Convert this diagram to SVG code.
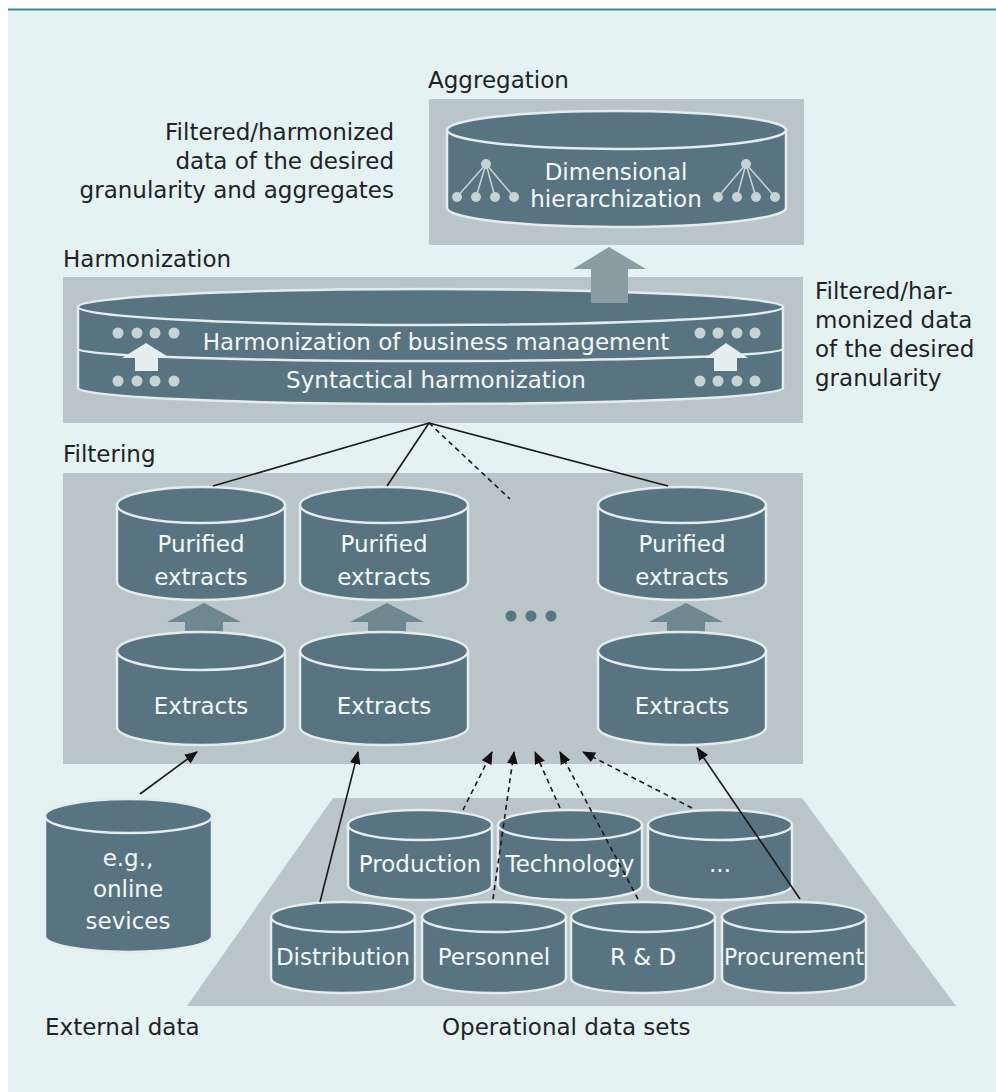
<svg xmlns="http://www.w3.org/2000/svg" width="996" height="1092" viewBox="0 0 996 1092">
<defs>
<style>
.lbl{font-family:"DejaVu Sans","Liberation Sans",sans-serif;font-size:23px;fill:#1f2324}
.wt{font-family:"DejaVu Sans","Liberation Sans",sans-serif;font-size:23px;fill:#f4f8f8;text-anchor:middle}
.box{fill:#b9c5c9}
.cyl{fill:#587480;stroke:#e4ecee;stroke-width:2.5}
.cl{fill:none;stroke:#e4ecee;stroke-width:2.5}
.con{stroke:#1a1a1a;stroke-width:1.6;fill:none}
.dash{stroke-dasharray:5,4}
.garrow{fill:#6f878e}
.dot{fill:#c9d3d6}
.tree{stroke:#c9d3d6;stroke-width:1.5}
</style>
<marker id="ah" viewBox="0 0 12 10" refX="11" refY="5" markerWidth="13" markerHeight="11" markerUnits="userSpaceOnUse" orient="auto">
<path d="M0,0 L12,5 L0,10 Z" fill="#111"/>
</marker>
</defs>
<rect x="0" y="0" width="996" height="1092" fill="#ffffff"/>
<rect x="8" y="9" width="988" height="1083" fill="#e4f2f2"/>
<line x1="8" y1="9.5" x2="996" y2="9.5" stroke="#3f8f8f" stroke-width="2"/>

<!-- Aggregation -->
<g id="aggregation">
<text class="lbl" x="428" y="88">Aggregation</text>
<rect class="box" x="429" y="99" width="375" height="146"/>
<path class="cyl" d="M447,130 L447,208 A169.5,19 0 0 0 786,208 L786,130 Z"/>
<ellipse class="cyl" cx="616.5" cy="130" rx="169.5" ry="19"/>
<g class="tree">
<line x1="486" y1="164" x2="457" y2="197"/><line x1="486" y1="164" x2="476" y2="197"/><line x1="486" y1="164" x2="495" y2="197"/><line x1="486" y1="164" x2="514" y2="197"/>
<line x1="746" y1="164" x2="718" y2="197"/><line x1="746" y1="164" x2="737" y2="197"/><line x1="746" y1="164" x2="756" y2="197"/><line x1="746" y1="164" x2="775" y2="197"/>
</g>
<g class="dot">
<circle cx="486" cy="164" r="5"/><circle cx="457" cy="197" r="5"/><circle cx="476" cy="197" r="5"/><circle cx="495" cy="197" r="5"/><circle cx="514" cy="197" r="5"/>
<circle cx="746" cy="164" r="5"/><circle cx="718" cy="197" r="5"/><circle cx="737" cy="197" r="5"/><circle cx="756" cy="197" r="5"/><circle cx="775" cy="197" r="5"/>
</g>
<text class="wt" x="616" y="180">Dimensional</text>
<text class="wt" x="616" y="207">hierarchization</text>
</g>

<g id="label-aggregates">
<text class="lbl" x="394" y="140" text-anchor="end">Filtered/harmonized</text>
<text class="lbl" x="394" y="169" text-anchor="end">data of the desired</text>
<text class="lbl" x="394" y="198" text-anchor="end">granularity and aggregates</text>
</g>

<!-- Harmonization -->
<g id="harmonization">
<text class="lbl" x="63" y="267">Harmonization</text>
<rect class="box" x="63" y="277" width="740" height="146"/>
<path class="cyl" d="M78,307 L78,388 A352.5,16 0 0 0 783,388 L783,307 Z"/>
<ellipse class="cyl" cx="430.5" cy="307" rx="352.5" ry="18"/>
<path class="cl" d="M78,349 A352.5,12 0 0 0 783,349"/>
<g class="dot">
<circle cx="118" cy="333" r="5.5"/><circle cx="137" cy="333" r="5.5"/><circle cx="155" cy="333" r="5.5"/><circle cx="174" cy="333" r="5.5"/>
<circle cx="118" cy="381" r="5.5"/><circle cx="137" cy="381" r="5.5"/><circle cx="155" cy="381" r="5.5"/><circle cx="174" cy="381" r="5.5"/>
<circle cx="700" cy="333" r="5.5"/><circle cx="718" cy="333" r="5.5"/><circle cx="737" cy="333" r="5.5"/><circle cx="755" cy="333" r="5.5"/>
<circle cx="700" cy="381" r="5.5"/><circle cx="718" cy="381" r="5.5"/><circle cx="737" cy="381" r="5.5"/><circle cx="755" cy="381" r="5.5"/>
</g>
<polygon points="146,343 170,358 158,358 158,371 135,371 135,358 122,358" fill="#e6eff0"/>
<polygon points="726,343 748,358 737,358 737,371 714,371 714,358 705,358" fill="#e6eff0"/>
<text class="wt" x="436" y="350">Harmonization of business management</text>
<text class="wt" x="436" y="388">Syntactical harmonization</text>
<polygon points="609,247 646,269 628,269 628,303 591,303 591,269 573,269" fill="#8a9da3"/>
</g>

<g id="label-granularity">
<text class="lbl" x="815" y="299">Filtered/har-</text>
<text class="lbl" x="815" y="328">monized data</text>
<text class="lbl" x="815" y="357">of the desired</text>
<text class="lbl" x="815" y="386">granularity</text>
</g>

<!-- Filtering -->
<g id="filtering">
<text class="lbl" x="63" y="462">Filtering</text>
<rect class="box" x="63" y="473" width="740" height="291"/>
<polygon class="garrow" points="204,603 241,622 223,622 223,640 185,640 185,622 167,622"/>
<polygon class="garrow" points="387,603 424,622 406,622 406,640 368,640 368,622 350,622"/>
<polygon class="garrow" points="686,603 723,622 705,622 705,640 667,640 667,622 649,622"/>
<g fill="#587480"><circle cx="511" cy="616" r="5.5"/><circle cx="531" cy="616" r="5.5"/><circle cx="551" cy="616" r="5.5"/></g>
</g>

<g id="purified-1">
<path class="cyl" d="M117,505 L117,582 A84,18 0 0 0 285,582 L285,505 Z"/>
<ellipse class="cyl" cx="201" cy="505" rx="84" ry="18"/>
<text class="wt" x="201" y="552">Purified</text><text class="wt" x="201" y="585">extracts</text>
</g>
<g id="purified-2">
<path class="cyl" d="M300,505 L300,582 A84,18 0 0 0 468,582 L468,505 Z"/>
<ellipse class="cyl" cx="384" cy="505" rx="84" ry="18"/>
<text class="wt" x="384" y="552">Purified</text><text class="wt" x="384" y="585">extracts</text>
</g>
<g id="purified-3">
<path class="cyl" d="M598,505 L598,582 A84,18 0 0 0 766,582 L766,505 Z"/>
<ellipse class="cyl" cx="682" cy="505" rx="84" ry="18"/>
<text class="wt" x="682" y="552">Purified</text><text class="wt" x="682" y="585">extracts</text>
</g>
<g id="extracts-1">
<path class="cyl" d="M117,651 L117,727 A84,18 0 0 0 285,727 L285,651 Z"/>
<ellipse class="cyl" cx="201" cy="651" rx="84" ry="19"/>
<text class="wt" x="201" y="714">Extracts</text>
</g>
<g id="extracts-2">
<path class="cyl" d="M300,651 L300,727 A84,18 0 0 0 468,727 L468,651 Z"/>
<ellipse class="cyl" cx="384" cy="651" rx="84" ry="19"/>
<text class="wt" x="384" y="714">Extracts</text>
</g>
<g id="extracts-3">
<path class="cyl" d="M598,651 L598,727 A84,18 0 0 0 766,727 L766,651 Z"/>
<ellipse class="cyl" cx="682" cy="651" rx="84" ry="19"/>
<text class="wt" x="682" y="714">Extracts</text>
</g>

<!-- External -->
<g id="external">
<path class="cyl" d="M45,816 L45,936 A83.5,16 0 0 0 212,936 L212,816 Z"/>
<ellipse class="cyl" cx="128.5" cy="816" rx="83.5" ry="17"/>
<text class="wt" x="128" y="866">e.g.,</text>
<text class="wt" x="128" y="897">online</text>
<text class="wt" x="128" y="929">sevices</text>
<text class="lbl" x="45" y="1035">External data</text>
</g>

<!-- Operational -->
<g id="operational">
<polygon class="box" points="333,798 802,798 956,1006 187,1006"/>
<text class="lbl" x="442" y="1035">Operational data sets</text>
</g>
<g id="production">
<path class="cyl" d="M348,825 L348,885 A72,15 0 0 0 492,885 L492,825 Z"/>
<ellipse class="cyl" cx="420" cy="825" rx="72" ry="15"/>
<text class="wt" x="420" y="872">Production</text>
</g>
<g id="technology">
<path class="cyl" d="M498,825 L498,885 A72,15 0 0 0 642,885 L642,825 Z"/>
<ellipse class="cyl" cx="570" cy="825" rx="72" ry="15"/>
<text class="wt" x="570" y="872">Technology</text>
</g>
<g id="more">
<path class="cyl" d="M648,825 L648,885 A72,15 0 0 0 792,885 L792,825 Z"/>
<ellipse class="cyl" cx="720" cy="825" rx="72" ry="15"/>
<text class="wt" x="720" y="872">...</text>
</g>
<g id="distribution">
<path class="cyl" d="M271,917 L271,978 A72,15 0 0 0 415,978 L415,917 Z"/>
<ellipse class="cyl" cx="343" cy="917" rx="72" ry="15"/>
<text class="wt" x="343" y="965">Distribution</text>
</g>
<g id="personnel">
<path class="cyl" d="M422,917 L422,978 A72,15 0 0 0 566,978 L566,917 Z"/>
<ellipse class="cyl" cx="494" cy="917" rx="72" ry="15"/>
<text class="wt" x="494" y="965">Personnel</text>
</g>
<g id="rnd">
<path class="cyl" d="M571,917 L571,978 A72,15 0 0 0 715,978 L715,917 Z"/>
<ellipse class="cyl" cx="643" cy="917" rx="72" ry="15"/>
<text class="wt" x="643" y="965">R &amp; D</text>
</g>
<g id="procurement">
<path class="cyl" d="M722,917 L722,978 A72,15 0 0 0 866,978 L866,917 Z"/>
<ellipse class="cyl" cx="794" cy="917" rx="72" ry="15"/>
<text class="wt" x="794" y="965" textLength="140" lengthAdjust="spacingAndGlyphs">Procurement</text>
</g>

<!-- Connectors -->
<g id="connectors">
<line class="con" x1="429" y1="423" x2="213" y2="486"/>
<line class="con" x1="429" y1="423" x2="387" y2="486"/>
<line class="con dash" x1="429" y1="423" x2="510" y2="499"/>
<line class="con" x1="429" y1="423" x2="668" y2="486"/>
<line class="con" x1="140" y1="794" x2="197" y2="752" marker-end="url(#ah)"/>
<line class="con" x1="320" y1="902" x2="358" y2="752" marker-end="url(#ah)"/>
<line class="con" x1="800" y1="899" x2="697" y2="748" marker-end="url(#ah)"/>
<line class="con dash" x1="463" y1="810" x2="492" y2="752" marker-end="url(#ah)"/>
<line class="con dash" x1="493" y1="899" x2="514" y2="752" marker-end="url(#ah)"/>
<line class="con dash" x1="560" y1="808" x2="535" y2="752" marker-end="url(#ah)"/>
<line class="con dash" x1="638" y1="899" x2="560" y2="752" marker-end="url(#ah)"/>
<line class="con dash" x1="692" y1="808" x2="583" y2="752" marker-end="url(#ah)"/>
</g>
</svg>
